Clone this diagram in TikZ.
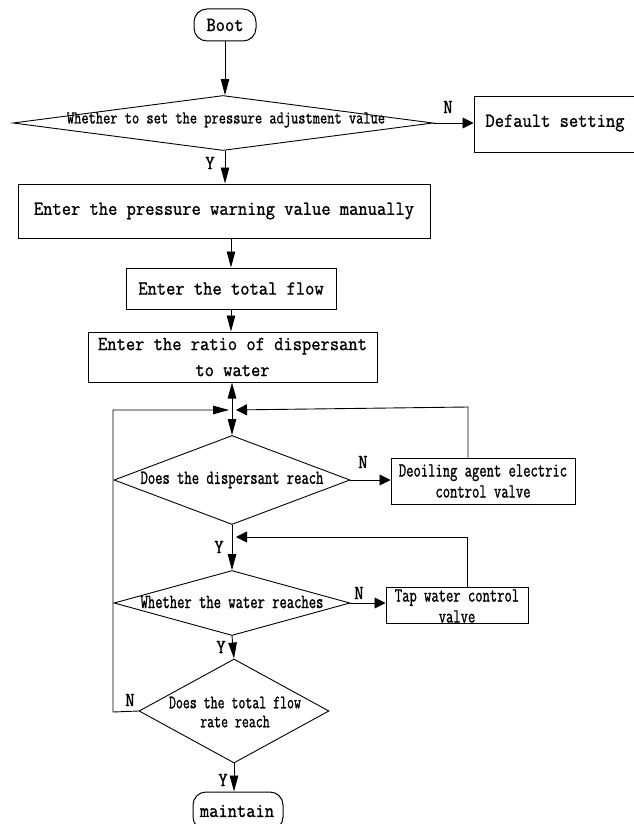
\documentclass[tikz,border=0pt]{standalone}
\usepackage{fontspec}
\setmainfont{Latin Modern Mono}
\newfontfamily\bigf[FakeStretch=0.90,FakeBold=1.1]{Latin Modern Mono}
\newfontfamily\smallf[FakeStretch=0.71,FakeBold=1.1]{Latin Modern Mono}
\newfontfamily\smallfb[FakeStretch=0.78,FakeBold=1.1]{Latin Modern Mono}
\usetikzlibrary{shapes.geometric,arrows.meta}
\begin{document}
\begin{tikzpicture}[x=1pt,y=-1pt,
  line width=0.9pt,
  box/.style={draw, line width=1pt, inner sep=0pt, align=center},
  term/.style={draw, line width=1pt, rounded corners=13pt, inner sep=0pt},
  dia/.style={draw, diamond, inner sep=0pt, line width=0.9pt},
  bt/.style={font=\bigf\fontsize{20}{26}\selectfont, align=center, inner sep=0pt},
  st/.style={font=\smallf\fontsize{20}{21}\selectfont, align=center, inner sep=0pt},
  lab/.style={font=\bigf\fontsize{20}{20}\selectfont, inner sep=0pt},
  varr/.style={-{Triangle[length=16pt,width=8.5pt]}},
  harr/.style={-{Triangle[length=11pt,width=11pt]}}
]
\useasboundingbox[fill=white] (0,0) rectangle (633,824);

% nodes
\node[term, minimum width=62, minimum height=32] (boot) at (225,25) {};
\node[bt] at (boot) {Boot};

\node[dia, minimum width=420, minimum height=55] (d1) at (223,123) {};
\node[st, font=\smallfb\fontsize{18}{18}\selectfont] at (226,120) {Whether to set the pressure adjustment value};

\node[box, minimum width=168, minimum height=55] (def) at (558,124.5) {};
\node[bt] at (555,123) {Default setting};

\node[box, minimum width=412, minimum height=54] (b1) at (224,211) {};
\node[bt] at (b1) {Enter the pressure warning value manually};

\node[box, minimum width=210, minimum height=41] (b2) at (231,288.5) {};
\node[bt] at (b2) {Enter the total flow};

\node[box, minimum width=289, minimum height=50] (b3) at (232.5,357) {};
\node[bt] at (b3) {Enter the ratio of dispersant\\to water};

\coordinate (j) at (232,410);

\node[dia, minimum width=236, minimum height=89] (d2) at (232,480) {};
\node[st] at (232,480) {Does the dispersant reach};

\node[box, minimum width=184, minimum height=46] (b4) at (483,481) {};
\node[st] at (b4) {Deoiling agent electric\\control valve};

\coordinate (k) at (232,537);

\node[dia, minimum width=236, minimum height=65] (d3) at (232,603) {};
\node[st] at (232,602) {Whether the water reaches};

\node[box, minimum width=142, minimum height=36] (b5) at (457,605) {};
\node[st] at (457,606) {Tap water control\\valve};

\node[dia, minimum width=190, minimum height=104] (d4) at (234,711) {};
\node[st, font=\smallf\fontsize{19}{19}\selectfont] at (235,712) {Does the total flow\\rate reach};

\node[term, minimum width=90, minimum height=38] (mt) at (238,811) {};
\node[bt] at (237,811) {maintain};

% connectors
\draw[varr] (boot) -- (d1.north -| boot);
\draw[harr] (d1.east) -- (def.west |- d1.east);
\node[lab] at (448,107) {N};
\draw[varr] (d1.south -| 225,0) -- (b1.north -| 225,0);
\node[lab] at (210,163) {Y};

\draw[varr] (b1.south -| b2.north) -- (b2.north);
\draw[varr] (b2.south) -- (b3.north -| b2.south);
\draw[varr] (j) -- (b3.south -| j);
\draw[varr] (j) -- (d2.north);

\draw[varr, shorten >=3pt] (d4.west) -- (113,712) -- (113,410) -- (j);
\draw[harr, shorten >=4pt] (b4.north -| 468,0) -- (468,407) -- (j);

\draw[harr] (d2.east) -- (b4.west |- d2.east);
\node[lab] at (363,462) {N};
\draw[varr] (d2.south) -- (d3.north);
\node[lab] at (219,547) {Y};

\draw[harr, shorten >=4pt] (b5.north -| 467,0) -- (467,537) -- (k);

\draw[harr] (d3.east) -- (b5.west |- d3.east);
\node[lab] at (359,593) {N};
\draw[varr] (d3.south) -- (d4.north);
\node[lab] at (221,647) {Y};
\node[lab] at (130,700) {N};
\draw[varr] (d4.south) -- (mt.north -| d4.south);
\node[lab] at (223,780) {Y};
\end{tikzpicture}
\end{document}
